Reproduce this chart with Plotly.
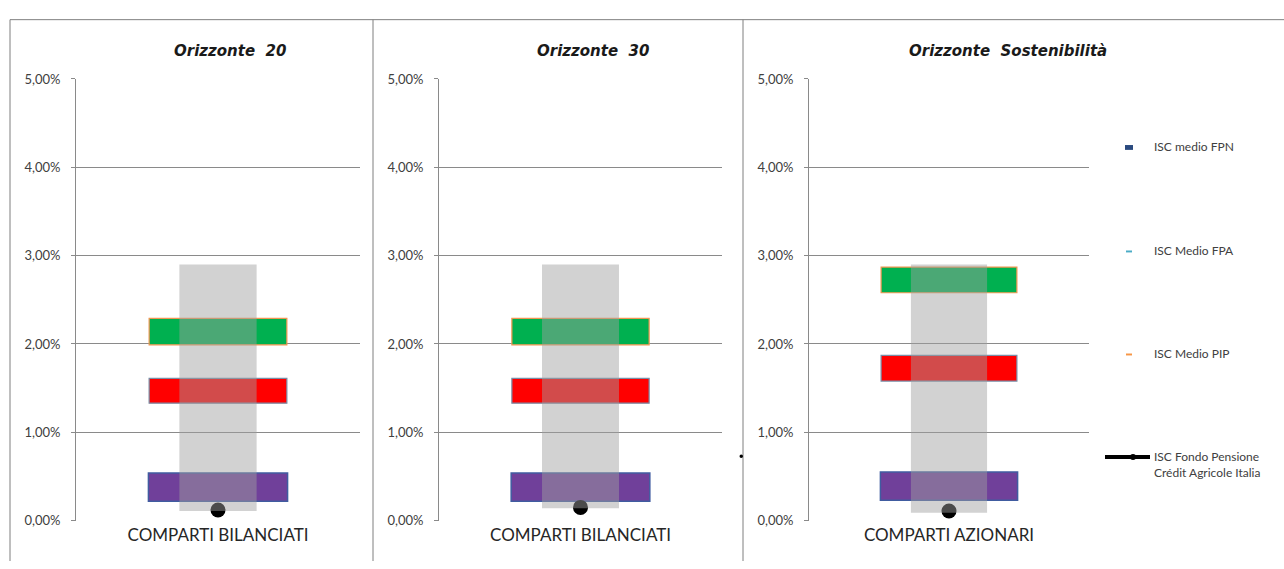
import plotly.graph_objects as go

# ---------------- data ----------------
panel_titles = ["Orizzonte  20", "Orizzonte  30", "Orizzonte  Sostenibilità"]
categories = ["COMPARTI BILANCIATI", "COMPARTI BILANCIATI", "COMPARTI AZIONARI"]
fpn_low = [0.22, 0.22, 0.23]
fpn_high = [0.54, 0.54, 0.55]
fpa_low = [1.33, 1.33, 1.58]
fpa_high = [1.61, 1.61, 1.87]
pip_low = [1.99, 1.99, 2.58]
pip_high = [2.29, 2.29, 2.87]
range_low = [0.11, 0.14, 0.09]
range_high = [2.90, 2.90, 2.90]
isc_fondo = [0.12, 0.15, 0.11]
y_tickvals = [0, 1, 2, 3, 4, 5]
y_ticktext = ["0,00%", "1,00%", "2,00%", "3,00%", "4,00%", "5,00%"]
legend_labels = ["ISC medio FPN", "ISC Medio FPA", "ISC Medio PIP",
                 "ISC Fondo Pensione<br>Crédit Agricole Italia"]

# ---------------- geometry ----------------
W, H = 1284, 569
def px(x):
    return x / W
def py(y):
    return 1 - y / H

x_domains = [(76, 360), (439, 722), (809, 1089)]
y_dom = [py(527.5), py(73)]
title_centers = [230, 593, 1008]

GRID = "#8a8a8a"
fig = go.Figure()

for i in range(3):
    n = i + 1
    xb = "x" if n == 1 else f"x{n}"
    yb = "y" if n == 1 else f"y{n}"
    xo = f"x{n + 3}"
    yo = f"y{n + 3}"
    cat = [categories[i]]

    fig.add_trace(go.Bar(
        x=cat, y=[fpn_high[i] - fpn_low[i]], base=[fpn_low[i]], width=0.49,
        marker=dict(color="rgb(112,64,154)", line=dict(color="rgb(64,92,160)", width=1.5)),
        xaxis=xb, yaxis=yb, showlegend=False, name="ISC medio FPN"))
    fig.add_trace(go.Bar(
        x=cat, y=[fpa_high[i] - fpa_low[i]], base=[fpa_low[i]], width=0.485,
        marker=dict(color="rgb(255,0,0)", line=dict(color="rgb(120,140,165)", width=1.2)),
        xaxis=xb, yaxis=yb, showlegend=False, name="ISC Medio FPA"))
    fig.add_trace(go.Bar(
        x=cat, y=[pip_high[i] - pip_low[i]], base=[pip_low[i]], width=0.485,
        marker=dict(color="rgb(0,176,80)", line=dict(color="rgb(240,150,80)", width=1.2)),
        xaxis=xb, yaxis=yb, showlegend=False, name="ISC Medio PIP"))
    fig.add_trace(go.Scatter(
        x=cat, y=[isc_fondo[i]], mode="markers",
        marker=dict(color="black", size=15, line=dict(width=0)),
        xaxis=xb, yaxis=yb, showlegend=False, name="ISC Fondo Pensione"))
    # translucent grey range drawn on an overlay subplot (above the others)
    fig.add_trace(go.Bar(
        x=cat, y=[range_high[i] - range_low[i]], base=[range_low[i]], width=0.272,
        marker=dict(color="rgba(160,160,160,0.47)", line=dict(width=0)),
        xaxis=xo, yaxis=yo, showlegend=False, name="range"))

    d0, d1 = x_domains[i]
    xkey = "xaxis" if n == 1 else f"xaxis{n}"
    ykey = "yaxis" if n == 1 else f"yaxis{n}"
    fig.layout[xkey] = dict(
        domain=[px(d0), px(d1)], anchor=yb, type="category", range=[-0.5, 0.5],
        showgrid=False, showline=False, zeroline=False, ticks="",
        tickfont=dict(family="Lato", size=17, color="#262626"),
        ticklabelstandoff=2, fixedrange=True)
    fig.layout[ykey] = dict(
        domain=y_dom, anchor=xb, range=[0, 5], tickvals=y_tickvals, ticktext=y_ticktext,
        showgrid=True, gridcolor=GRID, gridwidth=1, showline=True, linecolor=GRID,
        linewidth=1, ticks="outside", ticklen=4, tickcolor=GRID, zeroline=False,
        tickfont=dict(family="Lato", size=13, color="#404040"),
        ticklabelstandoff=8, fixedrange=True)
    fig.layout[f"xaxis{n + 3}"] = dict(
        overlaying=xb, anchor=yo, type="category", range=[-0.5, 0.5], visible=False,
        fixedrange=True)
    fig.layout[f"yaxis{n + 3}"] = dict(
        overlaying=yb, anchor=xo, range=[0, 5], visible=False, fixedrange=True)

annotations = []
for i in range(3):
    annotations.append(dict(
        x=px(title_centers[i]), y=py(44), xref="paper", yref="paper",
        text=panel_titles[i], showarrow=False, xanchor="center", yanchor="middle",
        font=dict(family="DejaVu Sans", size=15, color="#1a1a1a", style="italic",
                  weight="bold")))

# manual legend
leg_y = [143, 250, 356, 470]
for lab, yy in zip(legend_labels, leg_y):
    annotations.append(dict(
        x=px(1152), y=py(yy), xref="paper", yref="paper", text=lab, showarrow=False,
        xanchor="left", yanchor="middle", align="left",
        font=dict(family="Lato", size=12, color="#404040")))

shapes = []
# frame lines
frame = dict(type="line", xref="paper", yref="paper", line=dict(color="#7f7f7f", width=1))
shapes.append(dict(frame, x0=px(10), x1=1, y0=py(12), y1=py(12)))
shapes.append(dict(frame, x0=px(10), x1=px(10), y0=py(12), y1=0))
shapes.append(dict(frame, x0=px(373), x1=px(373), y0=py(12), y1=0))
shapes.append(dict(frame, x0=px(743), x1=px(743), y0=py(12), y1=0))
# legend keys
shapes.append(dict(type="rect", xref="paper", yref="paper", x0=px(1125), x1=px(1133),
                   y0=py(146), y1=py(141), fillcolor="#2a4a7f", line=dict(width=0)))
shapes.append(dict(type="rect", xref="paper", yref="paper", x0=px(1126), x1=px(1132),
                   y0=py(251.5), y1=py(249.5), fillcolor="#4bacc6", line=dict(width=0)))
shapes.append(dict(type="rect", xref="paper", yref="paper", x0=px(1126), x1=px(1132),
                   y0=py(357.5), y1=py(355.5), fillcolor="#f79646", line=dict(width=0)))
shapes.append(dict(type="line", xref="paper", yref="paper", x0=px(1105), x1=px(1150),
                   y0=py(462), y1=py(462), line=dict(color="black", width=4)))
shapes.append(dict(type="circle", xref="paper", yref="paper", x0=px(1130), x1=px(1136),
                   y0=py(465), y1=py(459), fillcolor="black", line=dict(width=0)))
# small stray mark
shapes.append(dict(type="circle", xref="paper", yref="paper", x0=px(739.5), x1=px(743),
                   y0=py(463), y1=py(459.5), fillcolor="black", line=dict(width=0)))

fig.update_layout(
    width=W, height=H, margin=dict(l=0, r=0, t=0, b=0),
    paper_bgcolor="white", plot_bgcolor="white", barmode="overlay",
    showlegend=False, annotations=annotations, shapes=shapes)

fig.write_html("out.html", config={"displayModeBar": False},
               post_script="document.body.style.margin='0px';")
